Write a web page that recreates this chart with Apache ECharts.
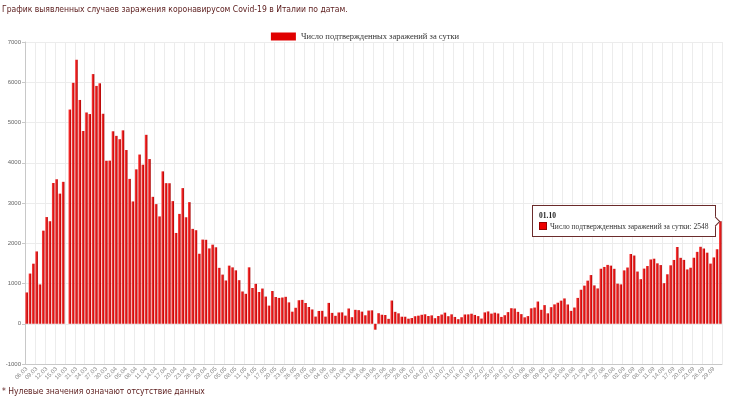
<!DOCTYPE html>
<html>
<head>
<meta charset="utf-8">
<script src="https://cdn.jsdelivr.net/npm/echarts@6/dist/echarts.min.js"></script>
<style>
html,body{margin:0;padding:0;background:#fff;}
#chart{width:730px;height:399px;}
</style>
</head>
<body>
<div id="chart"></div>
<script>
// новые случаи по дням (0 = нет данных)
var mar = [778, 1247, 1492, 1797, 977, 2313, 2651, 2547, 3497, 3590, 3233, 3526, 0, 5322, 5986, 6557, 5560, 4789, 5249, 5210, 6203, 5909, 5974, 5217, 4050, 4053];
var apr = [4782, 4668, 4585, 4805, 4316, 3599, 3039, 3836, 4204, 3951, 4694, 4092, 3153, 2972, 2667, 3786, 3493, 3491, 3047, 2256, 2729, 3370, 2646, 3021, 2357, 2324, 1739, 2091, 2086, 1872];
var may = [1965, 1900, 1389, 1221, 1075, 1444, 1401, 1327, 1083, 802, 744, 1402, 888, 992, 789, 875, 675, 451, 813, 665, 642, 652, 669, 531, 300, 397, 584, 593, 516, 416, 355];
var jun = [178, 318, 321, 177, 518, 270, 197, 280, 283, 202, 379, 163, 346, 338, 301, 210, 328, 333, -148, 262, 224, 218, 122, 577, 296, 259, 175, 174, 126, 142];
var jul = [187, 201, 223, 235, 192, 208, 138, 193, 229, 276, 188, 234, 169, 114, 162, 230, 233, 249, 219, 190, 129, 282, 306, 252, 275, 255, 170, 212, 289, 386, 379];
var aug = [295, 239, 159, 190, 384, 402, 552, 347, 463, 259, 412, 481, 523, 574, 629, 479, 320, 403, 642, 845, 947, 1071, 1210, 953, 878, 1367, 1411, 1462, 1444, 1365, 996];
var sep = [978, 1326, 1397, 1733, 1695, 1297, 1108, 1370, 1434, 1597, 1616, 1501, 1458, 1008, 1229, 1452, 1585, 1907, 1638, 1587, 1350, 1392, 1640, 1786, 1912, 1869, 1766, 1494, 1648, 1851];
var oct = [2548];

// [месяц, первый день, значения]
var months = [[3, 6, mar], [4, 1, apr], [5, 1, may], [6, 1, jun], [7, 1, jul], [8, 1, aug], [9, 1, sep], [10, 1, oct]];
var yTicks = {min: -1000, max: 7000, step: 1000};

var seriesName = 'Число подтвержденных заражений за сутки';
var titleText = 'График выявленных случаев заражения коронавирусом Covid-19 в Италии по датам.';
var noteText = '* Нулевые значения означают отсутствие данных';

function pad(n){ return (n < 10 ? '0' : '') + n; }

var dates = [];
var values = [];
months.forEach(function(m){
    m[2].forEach(function(v, i){
        dates.push(pad(m[1] + i) + '.' + pad(m[0]));
        values.push(v);
    });
});
var lastIndex = values.length - 1;

var headFont = {fontFamily: 'DejaVu Sans Condensed, Liberation Sans, sans-serif', fontSize: 8.5, fontWeight: 'normal', color: '#5a1a1a'};

var myChart = echarts.init(document.getElementById('chart'));
var option = {
    animation: false,
    title: [
        {text: titleText, left: 2, top: 5, padding: 0, textStyle: headFont},
        {text: noteText, left: 2, bottom: 3, padding: 0, textStyle: headFont}
    ],
    legend: {
        data: [seriesName],
        top: 27,
        left: 'center',
        icon: 'rect',
        itemWidth: 25,
        itemHeight: 8,
        itemStyle: {color: '#e00000'},
        textStyle: {fontFamily: 'Liberation Serif, serif', fontSize: 8.5, color: '#333'}
    },
    tooltip: {
        trigger: 'item',
        triggerOn: 'none',
        alwaysShowContent: true,
        transitionDuration: 0,
        backgroundColor: '#fff',
        borderColor: '#6b2b2b',
        borderWidth: 1,
        borderRadius: 0,
        padding: [4, 6],
        extraCssText: 'box-shadow:none;line-height:11px;',
        textStyle: {fontFamily: 'Liberation Serif, serif', fontSize: 7.5, color: '#333'},
        position: function(point, params, dom, rect, size){
            var px = myChart.convertToPixel({seriesIndex: 0}, [params.dataIndex, params.value]);
            return [px[0] - size.contentSize[0] - 4, px[1] - size.contentSize[1] / 2];
        },
        formatter: function(p){
            return '<b style="color:#222">' + p.name + '</b><br/>' +
                '<span style="display:inline-block;width:6px;height:6px;background:#e00;border:1px solid #900;margin-right:3px;vertical-align:-1px"></span>' +
                p.seriesName + ': ' + p.value +
                '<span style="position:absolute;right:-4px;top:50%;margin-top:-3px;width:6px;height:6px;background:#fff;border-top:1px solid #6b2b2b;border-right:1px solid #6b2b2b;transform:rotate(45deg)"></span>';
        }
    },
    grid: {left: 25, right: 8, top: 42, bottom: 35},
    xAxis: {
        type: 'category',
        data: dates,
        axisLine: {onZero: false, lineStyle: {color: '#c8c8c8'}},
        axisTick: {show: false},
        axisLabel: {
            interval: function(i){ return i % 3 === 0; },
            rotate: 45,
            fontSize: 6,
            color: '#888',
            margin: 4
        },
        splitLine: {show: true, interval: function(i){ return i % 3 === 0; }, lineStyle: {color: '#ececec'}}
    },
    yAxis: {
        type: 'value',
        min: yTicks.min,
        max: yTicks.max,
        interval: yTicks.step,
        axisLine: {show: true, lineStyle: {color: '#c8c8c8'}},
        axisTick: {show: true, length: 3, lineStyle: {color: '#c8c8c8'}},
        axisLabel: {fontSize: 6, color: '#666', margin: 4, formatter: function(v){ return String(v); }},
        splitLine: {lineStyle: {color: '#ececec'}}
    },
    series: [
        {
            name: seriesName,
            type: 'bar',
            data: values,
            barWidth: '78%',
            itemStyle: {
                color: new echarts.graphic.LinearGradient(0, 0, 1, 0, [
                    {offset: 0, color: '#ff4545'},
                    {offset: 0.5, color: '#e81c1c'},
                    {offset: 1, color: '#a50000'}
                ])
            }
        }
    ]
};
myChart.setOption(option);
myChart.dispatchAction({type: 'showTip', seriesIndex: 0, dataIndex: lastIndex});
</script>
</body>
</html>
